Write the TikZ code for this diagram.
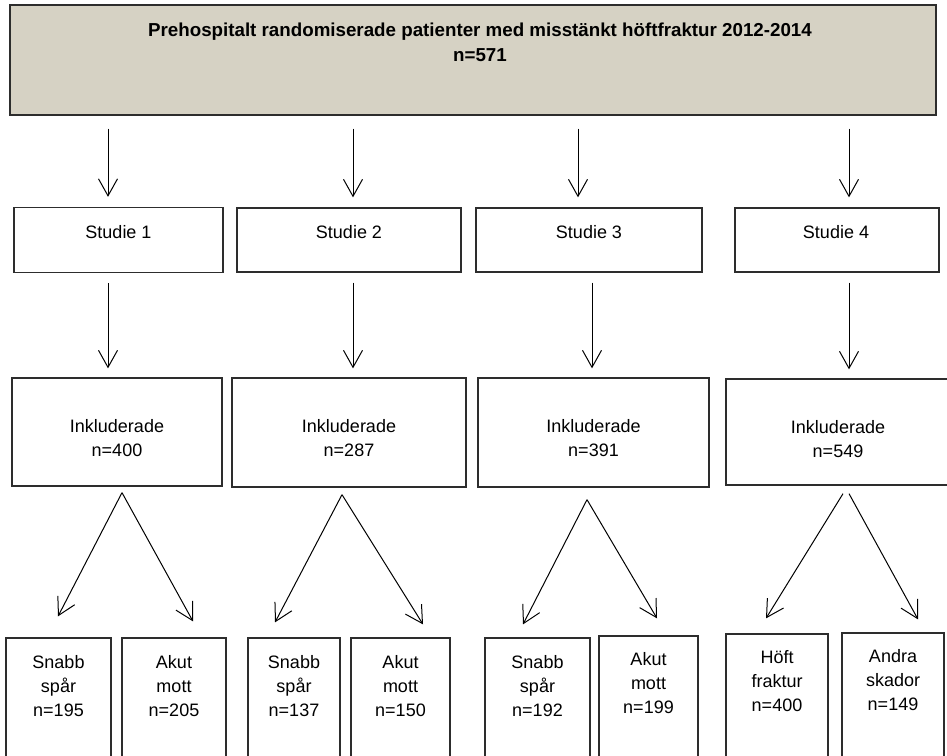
\documentclass[tikz,border=0pt]{standalone}
\usepackage{fontspec}
\setmainfont{Liberation Sans}
\usetikzlibrary{arrows.meta,calc}
\definecolor{topfill}{RGB}{214,210,196}
\definecolor{edge}{RGB}{45,45,45}
\begin{document}
\begin{tikzpicture}[x=1pt,y=-1pt,
  box/.style={draw=edge, line width=1.3pt, inner sep=0pt, fill=white},
  txt/.style={align=center, inner sep=0pt, font=\fontsize{18}{24}\selectfont},
  arr/.style={draw=black, line width=1pt, -{Straight Barb[length=17pt,width=19pt,line width=1pt]}}]
\useasboundingbox (0,0) rectangle (947,755);
\clip (0,0) rectangle (947,755);

% top box
\node[box, fill=topfill, minimum width=926pt, minimum height=110pt] (top) at (473,60) {};
\node[txt, font=\bfseries\fontsize{18.75}{25}\selectfont] (title) at (480,42.5)
  {Prehospitalt randomiserade patienter med misstänkt höftfraktur 2012-2014\\n=571};

% studie boxes
\node[box, minimum width=209pt, minimum height=65pt] (s1) at (118.5,240) {};
\node[box, minimum width=224pt, minimum height=64pt] (s2) at (349,240) {};
\node[box, minimum width=226pt, minimum height=64pt] (s3) at (589,240) {};
\node[box, minimum width=204pt, minimum height=64pt] (s4) at (837,240) {};
\node[txt] (s1t) at (118.5,232) {Studie 1};
\node[txt] (s2t) at (349,232) {Studie 2};
\node[txt] (s3t) at (589,232) {Studie 3};
\node[txt] (s4t) at (836,232) {Studie 4};

% inkluderade boxes
\node[box, minimum width=210pt, minimum height=108pt] (i1) at (117,432) {};
\node[box, minimum width=234pt, minimum height=109pt] (i2) at (349,432.5) {};
\node[box, minimum width=231pt, minimum height=109pt] (i3) at (593.5,432.5) {};
\node[box, minimum width=226pt, minimum height=106pt] (i4) at (839,432) {};
\node[txt] (i1t) at (117,438.5) {Inkluderade\\n=400};
\node[txt] (i2t) at (349,438.5) {Inkluderade\\n=287};
\node[txt] (i3t) at (593.5,438.5) {Inkluderade\\n=391};
\node[txt] (i4t) at (838,439.5) {Inkluderade\\n=549};

% bottom boxes
\node[box, minimum width=105pt, minimum height=132pt] (a) at (58.5,704) {};
\node[box, minimum width=104pt, minimum height=132pt] (b) at (174,704) {};
\node[box, minimum width=92pt, minimum height=132pt] (c) at (294,704) {};
\node[box, minimum width=99pt, minimum height=132pt] (d) at (400.5,704) {};
\node[box, minimum width=105pt, minimum height=132pt] (e) at (537.5,704) {};
\node[box, minimum width=99pt, minimum height=134pt] (f) at (648.5,703) {};
\node[box, minimum width=102pt, minimum height=136pt] (g) at (777,702) {};
\node[box, minimum width=102pt, minimum height=137pt] (h) at (893,701.5) {};
\node[txt] (at) at (58.5,686) {Snabb\\spår\\n=195};
\node[txt] (bt) at (174,686) {Akut\\mott\\n=205};
\node[txt] (ct) at (294,686) {Snabb\\spår\\n=137};
\node[txt] (dt) at (400.5,686) {Akut\\mott\\n=150};
\node[txt] (et) at (537.5,686) {Snabb\\spår\\n=192};
\node[txt] (ft) at (648.5,683) {Akut\\mott\\n=199};
\node[txt] (gt) at (777,681) {Höft\\fraktur\\n=400};
\node[txt] (ht) at (893,680) {Andra\\skador\\n=149};

% arrows top -> studie
\draw[arr] ($(top.south)+(-365,13)$) -- ($(s1.north)+(-10.5,-10)$);
\draw[arr] ($(top.south)+(-120,13)$) -- ($(s2.north)+(4,-10)$);
\draw[arr] ($(top.south)+(105,13)$) -- ($(s3.north)+(-11,-10)$);
\draw[arr] ($(top.south)+(376,13)$) -- ($(s4.north)+(12,-10)$);

% arrows studie -> inkluderade
\draw[arr] ($(s1.south)+(-10.5,10)$) -- ($(i1.north)+(-9,-9)$);
\draw[arr] ($(s2.south)+(4,10)$) -- ($(i2.north)+(4,-9)$);
\draw[arr] ($(s3.south)+(3,10)$) -- ($(i3.north)+(-1.5,-9)$);
\draw[arr] ($(s4.south)+(12,10)$) -- ($(i4.north)+(10,-9)$);

% diagonal arrows
\draw[arr] ($(i1.south)+(5,6)$) -- ($(a.north)+(-0.5,-21)$);
\draw[arr] ($(i1.south)+(5,6)$) -- ($(b.north)+(19,-16)$);
\draw[arr] ($(i2.south)+(-7,7)$) -- ($(c.north)+(-19,-15)$);
\draw[arr] ($(i2.south)+(-7,7)$) -- ($(d.north)+(22.5,-13)$);
\draw[arr] ($(i3.south)+(-6.5,12)$) -- ($(e.north)+(-14.5,-13)$);
\draw[arr] ($(i3.south)+(-6.5,12)$) -- ($(f.north)+(8.5,-17)$);
\draw[arr] ($(i4.south)+(4,8)$) -- ($(g.north)+(-11,-15)$);
\draw[arr] ($(i4.south)+(10,8)$) -- ($(h.north)+(25,-13)$);
\end{tikzpicture}
\end{document}
